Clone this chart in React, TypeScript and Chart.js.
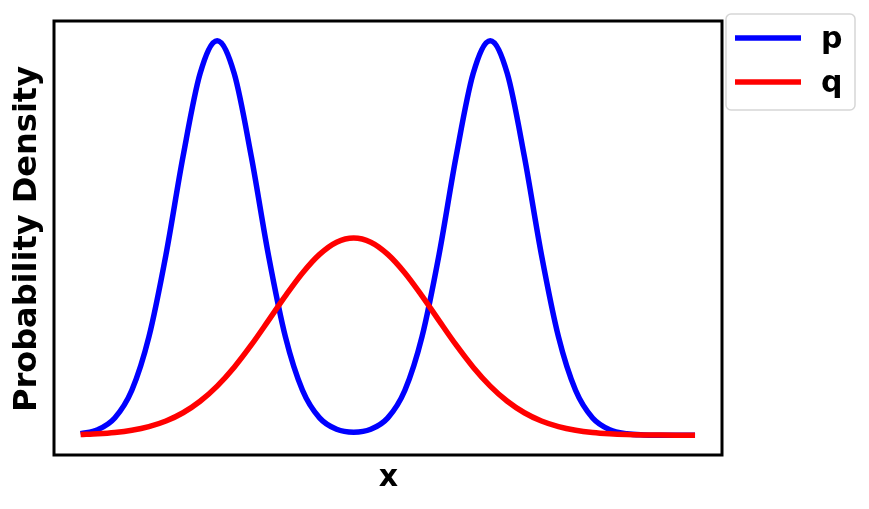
import React, { useEffect, useRef } from "react";
import { Chart, registerables } from "chart.js";

Chart.register(...registerables);

const xValues = [
  -4, -3.75, -3.5, -3.25, -3, -2.75, -2.5, -2.25, -2, -1.75, -1.5, -1.25, -1,
  -0.75, -0.5, -0.25, 0, 0.25, 0.5, 0.75, 1, 1.25, 1.5, 1.75, 2, 2.25, 2.5,
  2.75, 3, 3.25, 3.5, 3.75, 4, 4.25, 4.5, 4.75, 5,
];
const pValues = [
  0.0039, 0.0142, 0.0439, 0.1142, 0.2494, 0.4578, 0.7066, 0.9169, 1.0, 0.9169,
  0.7066, 0.4578, 0.2494, 0.1142, 0.0441, 0.0151, 0.0077, 0.0151, 0.0441,
  0.1142, 0.2494, 0.4578, 0.7066, 0.9169, 1.0, 0.9169, 0.7066, 0.4578, 0.2494,
  0.1142, 0.0439, 0.0142, 0.0039, 0.0009, 0.0002, 0.0, 0.0,
];
const qValues = [
  0.0019, 0.0038, 0.0071, 0.0128, 0.022, 0.0362, 0.0571, 0.0862, 0.1247,
  0.1726, 0.2289, 0.2906, 0.3533, 0.4113, 0.4584, 0.4893, 0.5, 0.4893, 0.4584,
  0.4113, 0.3533, 0.2906, 0.2289, 0.1726, 0.1247, 0.0862, 0.0571, 0.0362, 0.022,
  0.0128, 0.0071, 0.0038, 0.0019, 0.0009, 0.0004, 0.0002, 0.0001,
];
const seriesLabels = ["p", "q"];
const seriesColors = ["#0000ff", "#ff0000"];
const xTitle = "x";
const yTitle = "Probability Density";

const FONT = "bold 30px 'DejaVu Sans'";
const YFONT = "bold 32px 'DejaVu Sans'";

const decorPlugin = {
  id: "decor",
  afterDraw(chart: any) {
    const { ctx, chartArea } = chart;
    const { left, right, top, bottom } = chartArea;
    ctx.save();
    // frame
    ctx.strokeStyle = "#000";
    ctx.lineWidth = 3;
    ctx.strokeRect(left, top, right - left, bottom - top);

    // x title
    ctx.fillStyle = "#000";
    ctx.font = FONT;
    ctx.textAlign = "center";
    ctx.textBaseline = "alphabetic";
    ctx.fillText(xTitle, 388.5, 486);

    // y title
    ctx.save();
    ctx.font = YFONT;
    ctx.translate(36, 239);
    ctx.rotate(-Math.PI / 2);
    ctx.textAlign = "center";
    ctx.textBaseline = "alphabetic";
    ctx.fillText(yTitle, 0, 0);
    ctx.restore();

    // legend box
    const bx = 726, by = 14, bw = 129, bh = 96, r = 5;
    ctx.beginPath();
    ctx.moveTo(bx + r, by);
    ctx.lineTo(bx + bw - r, by);
    ctx.arcTo(bx + bw, by, bx + bw, by + r, r);
    ctx.lineTo(bx + bw, by + bh - r);
    ctx.arcTo(bx + bw, by + bh, bx + bw - r, by + bh, r);
    ctx.lineTo(bx + r, by + bh);
    ctx.arcTo(bx, by + bh, bx, by + bh - r, r);
    ctx.lineTo(bx, by + r);
    ctx.arcTo(bx, by, bx + r, by, r);
    ctx.closePath();
    ctx.fillStyle = "rgba(255,255,255,0.8)";
    ctx.fill();
    ctx.strokeStyle = "#d6d6d6";
    ctx.lineWidth = 1.5;
    ctx.stroke();

    const rows = [38, 82];
    seriesLabels.forEach((lab, i) => {
      ctx.strokeStyle = seriesColors[i];
      ctx.lineWidth = 5.5;
      ctx.beginPath();
      ctx.moveTo(735, rows[i]);
      ctx.lineTo(801, rows[i]);
      ctx.stroke();
      ctx.fillStyle = "#000";
      ctx.font = FONT;
      ctx.textAlign = "left";
      ctx.textBaseline = "alphabetic";
      ctx.fillText(lab, 821, rows[i] + 9.5);
    });
    ctx.restore();
  },
};

export default function App() {
  const ref = useRef<HTMLCanvasElement>(null);
  useEffect(() => {
    if (!ref.current) return;
    const chart = new Chart(ref.current, {
      type: "line",
      data: {
        datasets: [
          {
            label: seriesLabels[0],
            data: xValues.map((x, i) => ({ x, y: pValues[i] })),
            borderColor: seriesColors[0],
            borderWidth: 5.5,
            pointRadius: 0,
            cubicInterpolationMode: "monotone",
            fill: false,
            order: 1,
          },
          {
            label: seriesLabels[1],
            data: xValues.map((x, i) => ({ x, y: qValues[i] })),
            borderColor: seriesColors[1],
            borderWidth: 5.5,
            pointRadius: 0,
            cubicInterpolationMode: "monotone",
            fill: false,
            order: 0,
          },
        ],
      },
      options: {
        animation: false,
        responsive: false,
        layout: { padding: { left: 54, top: 21, right: 147, bottom: 54 } },
        scales: {
          x: { type: "linear", min: -4.39, max: 5.395, display: false },
          y: { type: "linear", min: -0.05, max: 1.05, display: false },
        },
        plugins: {
          legend: { display: false },
          tooltip: { enabled: false },
        },
      },
      plugins: [decorPlugin],
    });
    return () => chart.destroy();
  }, []);
  return (
    <div style={{ position: "fixed", left: 0, top: 0, width: 869, height: 509, background: "#fff" }}>
      <canvas ref={ref} width={869} height={509} style={{ display: "block" }} />
    </div>
  );
}
